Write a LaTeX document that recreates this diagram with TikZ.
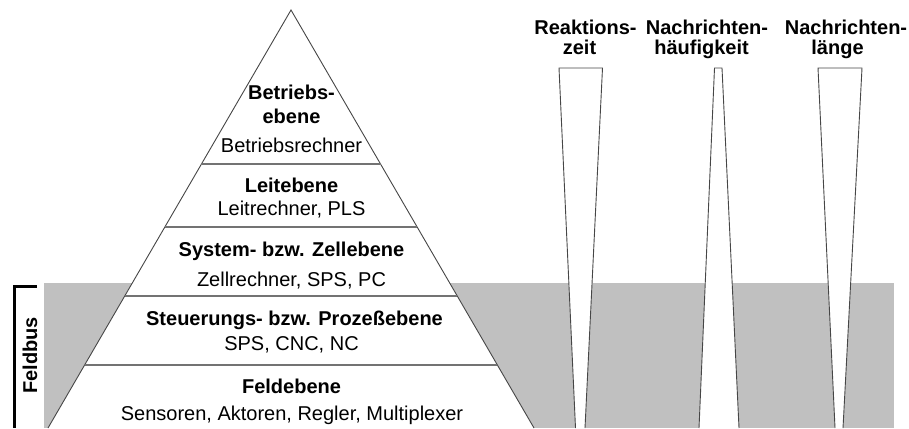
\documentclass[tikz,border=0pt]{standalone}
\usepackage{fontspec}
\setmainfont{Liberation Sans}
\usetikzlibrary{calc}
\definecolor{bandgray}{RGB}{192,192,192}
\definecolor{edgegray}{RGB}{70,70,70}
\definecolor{layergray}{RGB}{115,115,115}
\begin{document}
\begin{tikzpicture}[x=1pt,y=-1pt,
  outline/.style={draw=edgegray,line width=0.9pt,line join=miter},
  layerline/.style={draw=layergray,line width=1.6pt},
  title/.style={anchor=base,inner sep=0pt,font=\fontsize{20}{24}\selectfont\bfseries},
  sub/.style={anchor=base,inner sep=0pt,font=\fontsize{20}{24}\selectfont},
  bracket/.style={draw=black,line width=3pt}]
\useasboundingbox (0,0) rectangle (909,428);

% field bus band
\fill[bandgray] (44,283) rectangle (894,428);

% pyramid
\coordinate (apex) at (291,10);
\coordinate (bl) at (48,428);
\coordinate (br) at (534,428);
\filldraw[fill=white,outline] (bl) -- (apex) -- (br);

% layer separators
\foreach \yy/\nm in {164/a,227/b,296/c,365/d}{
  \coordinate (l\nm) at ($(apex)!{(\yy-10)/418}!(bl)$);
  \coordinate (r\nm) at ($(apex)!{(\yy-10)/418}!(br)$);
  \draw[layerline] (l\nm) -- (r\nm);
}

% layer labels
\node[title] (t1a) at (291.5,99) {Betriebs-};
\node[title] (t1b) at (291.5,123) {ebene};
\node[sub]   (s1)  at (291.5,152) {Betriebsrechner};
\node[title] (t2)  at (291.5,192.7) {Leitebene};
\node[sub]   (s2)  at (291.5,215) {Leitrechner, PLS};
\node[title] (t3)  at (291.5,256.7) {System- bzw. Zellebene};
\node[sub]   (s3)  at (291.5,286) {Zellrechner, SPS, PC};
\node[title] (t4)  at (294.5,325.7) {Steuerungs- bzw. Prozeßebene};
\node[sub]   (s4)  at (291.5,350) {SPS, CNC, NC};
\node[title] (t5)  at (291.5,393) {Feldebene};
\node[sub]   (s5)  at (292,420) {Sensoren, Aktoren, Regler, Multiplexer};

% field bus bracket
\coordinate (bt) at (37,286.5);
\coordinate (bc) at (14.5,286.5);
\coordinate (bb) at (14.5,428);
\draw[bracket] (bt) -- (bc) -- (bb);
\node[title,rotate=90] (fb) at (37,355.5) {Feldbus};

% indicator wedges
\filldraw[fill=white,outline] (575.5,428) -- (559,68) -- (602.5,68) -- (585,428);
\filldraw[fill=white,outline] (699,428) -- (714.5,68) -- (722,68) -- (739,428);
\filldraw[fill=white,outline] (835,428) -- (818,68) -- (862,68) -- (843,428);

% wedge headings
\node[title] (h1a) at (585.5,35) {Reaktions-};
\node[title] (h1b) at (579.5,55) {zeit};
\node[title] (h2a) at (707,35) {Nachrichten-};
\node[title] (h2b) at (701.5,55) {häufigkeit};
\node[title] (h3a) at (846,35) {Nachrichten-};
\node[title] (h3b) at (837.5,55) {länge};
\end{tikzpicture}
\end{document}
